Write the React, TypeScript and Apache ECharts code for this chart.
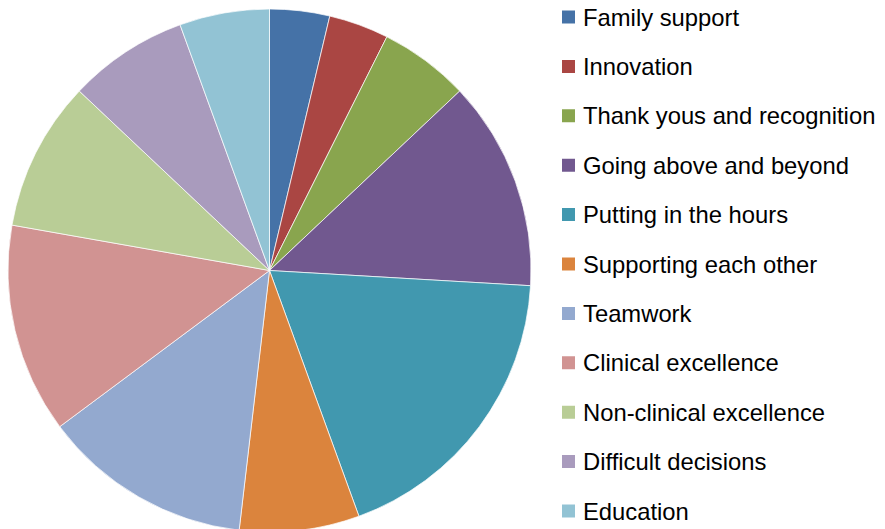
import React, { useEffect, useRef } from "react";
import * as echarts from "echarts";

const categories = [
  "Family support",
  "Innovation",
  "Thank yous and recognition",
  "Going above and beyond",
  "Putting in the hours",
  "Supporting each other",
  "Teamwork",
  "Clinical excellence",
  "Non-clinical excellence",
  "Difficult decisions",
  "Education",
];
const values = [2, 2, 3, 7, 10, 4, 7, 7, 5, 4, 3];
const colors = [
  "#4572A7",
  "#AA4643",
  "#89A54E",
  "#71588F",
  "#4198AF",
  "#DB843D",
  "#93A9CF",
  "#D19392",
  "#B9CD96",
  "#A99BBD",
  "#92C3D4",
];

export default function App() {
  const ref = useRef<HTMLDivElement>(null);
  useEffect(() => {
    if (!ref.current) return;
    const chart = echarts.init(ref.current, null, { renderer: "svg" });
    chart.setOption({
      animation: false,
      color: colors,
      legend: {
        orient: "vertical",
        left: 560,
        top: 5,
        padding: 0,
        itemWidth: 15,
        itemHeight: 15,
        itemGap: 25.4,
        icon: "rect",
        textStyle: {
          fontFamily: "Liberation Sans",
          fontSize: 23.8,
          lineHeight: 24,
          color: "#000",
          padding: [0, 0, 0, 2],
        },
        data: categories,
      },
      series: [
        {
          type: "pie",
          center: [269.5, 270.5],
          radius: 261.5,
          startAngle: 90,
          clockwise: true,
          label: { show: false },
          labelLine: { show: false },
          emphasis: { disabled: true },
          itemStyle: { borderColor: "#ffffff", borderWidth: 0.7 },
          data: categories.map((name, i) => ({ name, value: values[i] })),
        },
      ],
    });
    return () => chart.dispose();
  }, []);
  return (
    <div
      ref={ref}
      style={{ position: "fixed", left: 0, top: 0, width: 885, height: 529, background: "#fff" }}
    />
  );
}
